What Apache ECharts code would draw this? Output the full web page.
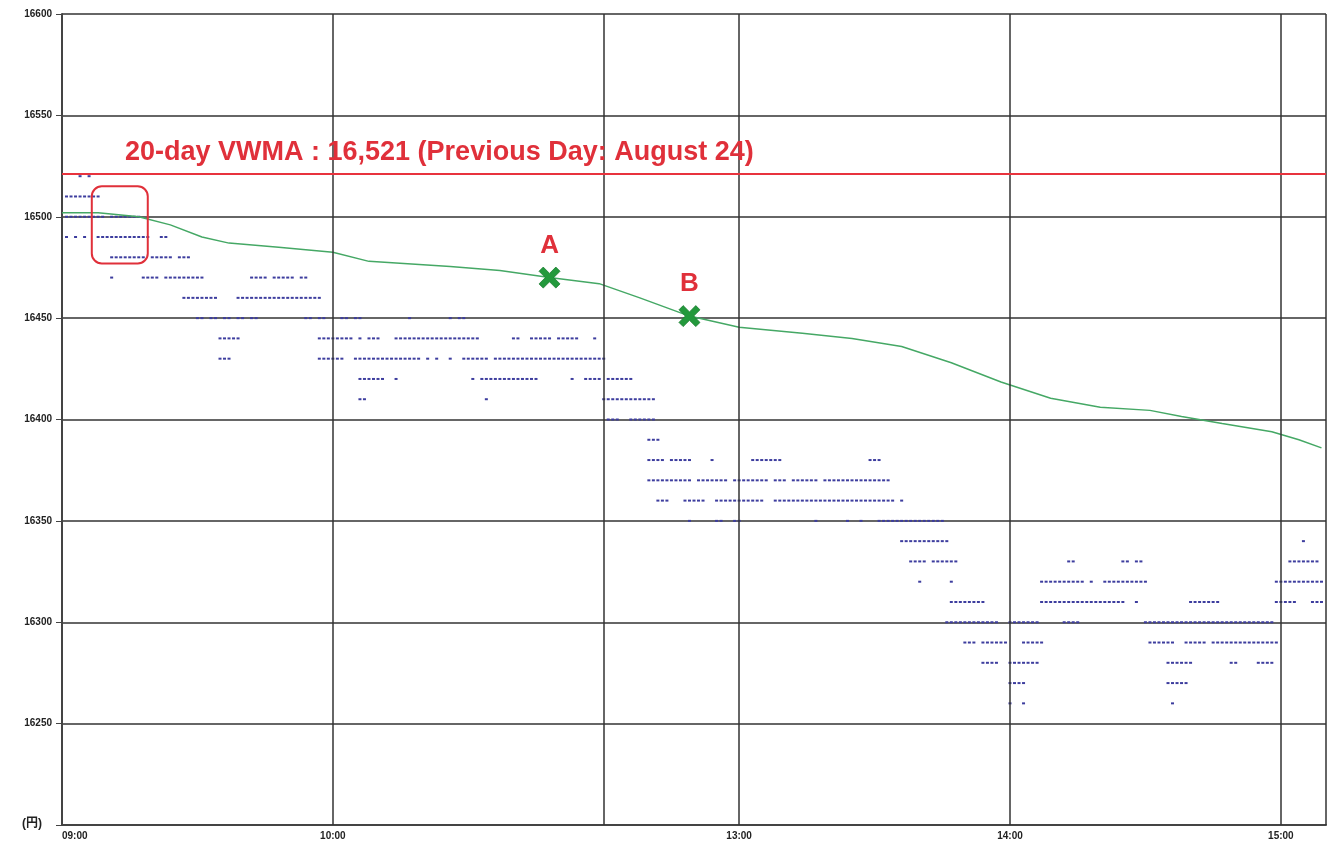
<!DOCTYPE html>
<html>
<head>
<meta charset="utf-8">
<title>20-day VWMA</title>
<script src="https://cdn.jsdelivr.net/npm/echarts@6/dist/echarts.min.js"></script>
<style>
  html, body { margin: 0; padding: 0; background: #fff; }
  #chart { width: 1329px; height: 843px; }
</style>
</head>
<body>
<div id="chart"></div>
<script>
// x = trading minutes since 09:00 (lunch break 11:00-12:30 removed)
const timeLabels = { 0: '09:00', 60: '10:00', 150: '13:00', 210: '14:00', 270: '15:00' }
const sessionLines = [60, 120, 150, 210, 270, 280]

// price levels traded, and the minute runs in which each level printed
const priceLevels = [16520, 16510, 16500, 16490, 16480, 16470, 16460, 16450, 16440, 16430,
  16420, 16410, 16400, 16390, 16380, 16370, 16360, 16350, 16340, 16330,
  16320, 16310, 16300, 16290, 16280, 16270, 16260]
const tradeRuns = [
  [[4, 4], [6, 6]],
  [[1, 8]],
  [[1, 9], [11, 17]],
  [[1, 1], [3, 3], [5, 5], [8, 19], [22, 23]],
  [[11, 18], [20, 24], [26, 28]],
  [[11, 11], [18, 21], [23, 31], [42, 45], [47, 51], [53, 54]],
  [[27, 34], [39, 57]],
  [[30, 31], [33, 34], [36, 37], [39, 40], [42, 43], [54, 55], [57, 58], [62, 63], [65, 66], [77, 77], [86, 86], [88, 89]],
  [[35, 39], [57, 64], [66, 66], [68, 70], [74, 92], [100, 101], [104, 108], [110, 114], [118, 118]],
  [[35, 37], [57, 62], [65, 79], [81, 81], [83, 83], [86, 86], [89, 94], [96, 120]],
  [[66, 71], [74, 74], [91, 91], [93, 105], [113, 113], [116, 119], [121, 126]],
  [[66, 67], [94, 94], [120, 131]],
  [[121, 123], [126, 131]],
  [[130, 132]],
  [[130, 133], [135, 139], [144, 144], [153, 159], [179, 181]],
  [[130, 139], [141, 147], [149, 156], [158, 160], [162, 167], [169, 183]],
  [[132, 134], [138, 142], [145, 155], [158, 184], [186, 186]],
  [[139, 139], [145, 146], [149, 150], [167, 167], [174, 174], [177, 177], [181, 195]],
  [[186, 196], [275, 275]],
  [[188, 191], [193, 198], [223, 224], [235, 236], [238, 239], [272, 278]],
  [[190, 190], [197, 197], [217, 226], [228, 228], [231, 240], [269, 279]],
  [[197, 204], [217, 235], [238, 238], [250, 256], [269, 273], [277, 279]],
  [[196, 207], [210, 216], [222, 225], [240, 268]],
  [[200, 202], [204, 209], [213, 217], [241, 246], [249, 253], [255, 269]],
  [[204, 207], [210, 216], [245, 250], [259, 260], [265, 268]],
  [[210, 213], [245, 249]],
  [[210, 210], [213, 213], [246, 246]]
]

// intraday VWAP
const vwapTime = [0, 8, 17, 24, 31, 37, 48, 60, 68, 86, 97, 108, 119, 128, 139, 150, 164, 175,
  186, 197, 208, 219, 230, 241, 248, 257, 268, 274, 279]
const vwapPrice = [16502, 16502, 16500, 16496, 16490, 16487, 16485, 16482.5, 16478, 16475.5, 16473.5,
  16470, 16467, 16460, 16451, 16445.5, 16442.5, 16440, 16436, 16428, 16418.5, 16410.5, 16406,
  16404.5, 16401.5, 16398, 16394, 16390, 16386]

const vwma = 16521
const pointNames = ['A', 'B']
const pointTimes = [108, 139]
const pointPrices = [16470, 16451]
const boxTimes = [6.6, 19]
const boxPrices = [16515, 16477]

const tradeDots = []
priceLevels.forEach((p, i) => {
  tradeRuns[i].forEach(r => {
    for (let m = r[0]; m <= r[1]; m++) tradeDots.push([m, p])
  })
})

const crossPath = 'path://M4,0 L10,6 L16,0 L20,4 L14,10 L20,16 L16,20 L10,14 L4,20 L0,16 L6,10 L0,4 Z'
const font = 'Liberation Sans, Arial, Noto Sans CJK JP, sans-serif'

const chart = echarts.init(document.getElementById('chart'))
chart.setOption({
  backgroundColor: '#fff',
  animation: false,
  title: {
    text: '20-day VWMA : 16,521 (Previous Day: August 24)',
    left: 120,
    top: 134,
    textStyle: { color: '#e0303a', fontSize: 27, fontWeight: 'bold', fontFamily: font }
  },
  grid: { left: 62, right: 3, top: 14, bottom: 18 },
  xAxis: {
    type: 'value',
    min: 0,
    max: 280,
    interval: 30,
    axisLine: { lineStyle: { color: '#444', width: 2 } },
    axisTick: { show: false },
    splitLine: { show: false },
    axisLabel: {
      color: '#222',
      fontSize: 10,
      fontWeight: 'bold',
      fontFamily: font,
      margin: 6,
      showMaxLabel: false,
      alignMinLabel: 'left',
      formatter: v => timeLabels[v] || ''
    }
  },
  yAxis: {
    type: 'value',
    min: 16200,
    max: 16600,
    interval: 50,
    axisLine: { show: true, lineStyle: { color: '#444', width: 2 } },
    axisTick: { show: true, length: 6, lineStyle: { color: '#444' } },
    splitLine: { lineStyle: { color: '#333', width: 1.5 } },
    axisLabel: {
      color: '#222',
      fontSize: 10,
      fontWeight: 'bold',
      fontFamily: font,
      margin: 10,
      formatter: v => (v === 16200 ? '' : String(v))
    }
  },
  series: [
    {
      name: 'trades',
      type: 'scatter',
      symbol: 'rect',
      symbolSize: [3, 2],
      itemStyle: { color: '#3d3d9e', opacity: 1 },
      data: tradeDots,
      markLine: {
        silent: true,
        symbol: 'none',
        label: { show: false },
        lineStyle: { color: '#333', width: 1.5, type: 'solid' },
        data: sessionLines.map(v => ({ xAxis: v }))
      }
    },
    {
      name: 'VWAP',
      type: 'line',
      showSymbol: false,
      lineStyle: { color: '#45a865', width: 1.5 },
      data: vwapTime.map((t, i) => [t, vwapPrice[i]]),
      markLine: {
        silent: true,
        symbol: 'none',
        label: { show: false },
        lineStyle: { color: '#e8333d', width: 2, type: 'solid' },
        data: [{ yAxis: vwma }]
      }
    },
    {
      name: 'points',
      type: 'scatter',
      symbol: crossPath,
      symbolSize: 21,
      itemStyle: { color: '#23993c', opacity: 1, borderColor: '#1c7d31', borderWidth: 0.8 },
      z: 5,
      label: {
        show: true,
        position: 'top',
        distance: 8,
        color: '#e0303a',
        opacity: 1,
        fontSize: 26,
        fontWeight: 'bold',
        fontFamily: font,
        formatter: p => pointNames[p.dataIndex]
      },
      data: pointTimes.map((t, i) => [t, pointPrices[i]])
    }
  ]
})

// unit label and rounded highlight box, the box placed through the chart's own scales
const p0 = chart.convertToPixel({ gridIndex: 0 }, [boxTimes[0], boxPrices[0]])
const p1 = chart.convertToPixel({ gridIndex: 0 }, [boxTimes[1], boxPrices[1]])
chart.setOption({
  graphic: [{
    type: 'text',
    left: 22,
    top: 818,
    style: { text: '(円)', fill: '#222', font: 'bold 12px ' + font }
  }, {
    type: 'rect',
    z: 10,
    shape: { x: p0[0], y: p0[1], width: p1[0] - p0[0], height: p1[1] - p0[1], r: 10 },
    style: { fill: 'none', stroke: '#e0303a', lineWidth: 2 }
  }]
})
</script>
</body>
</html>
